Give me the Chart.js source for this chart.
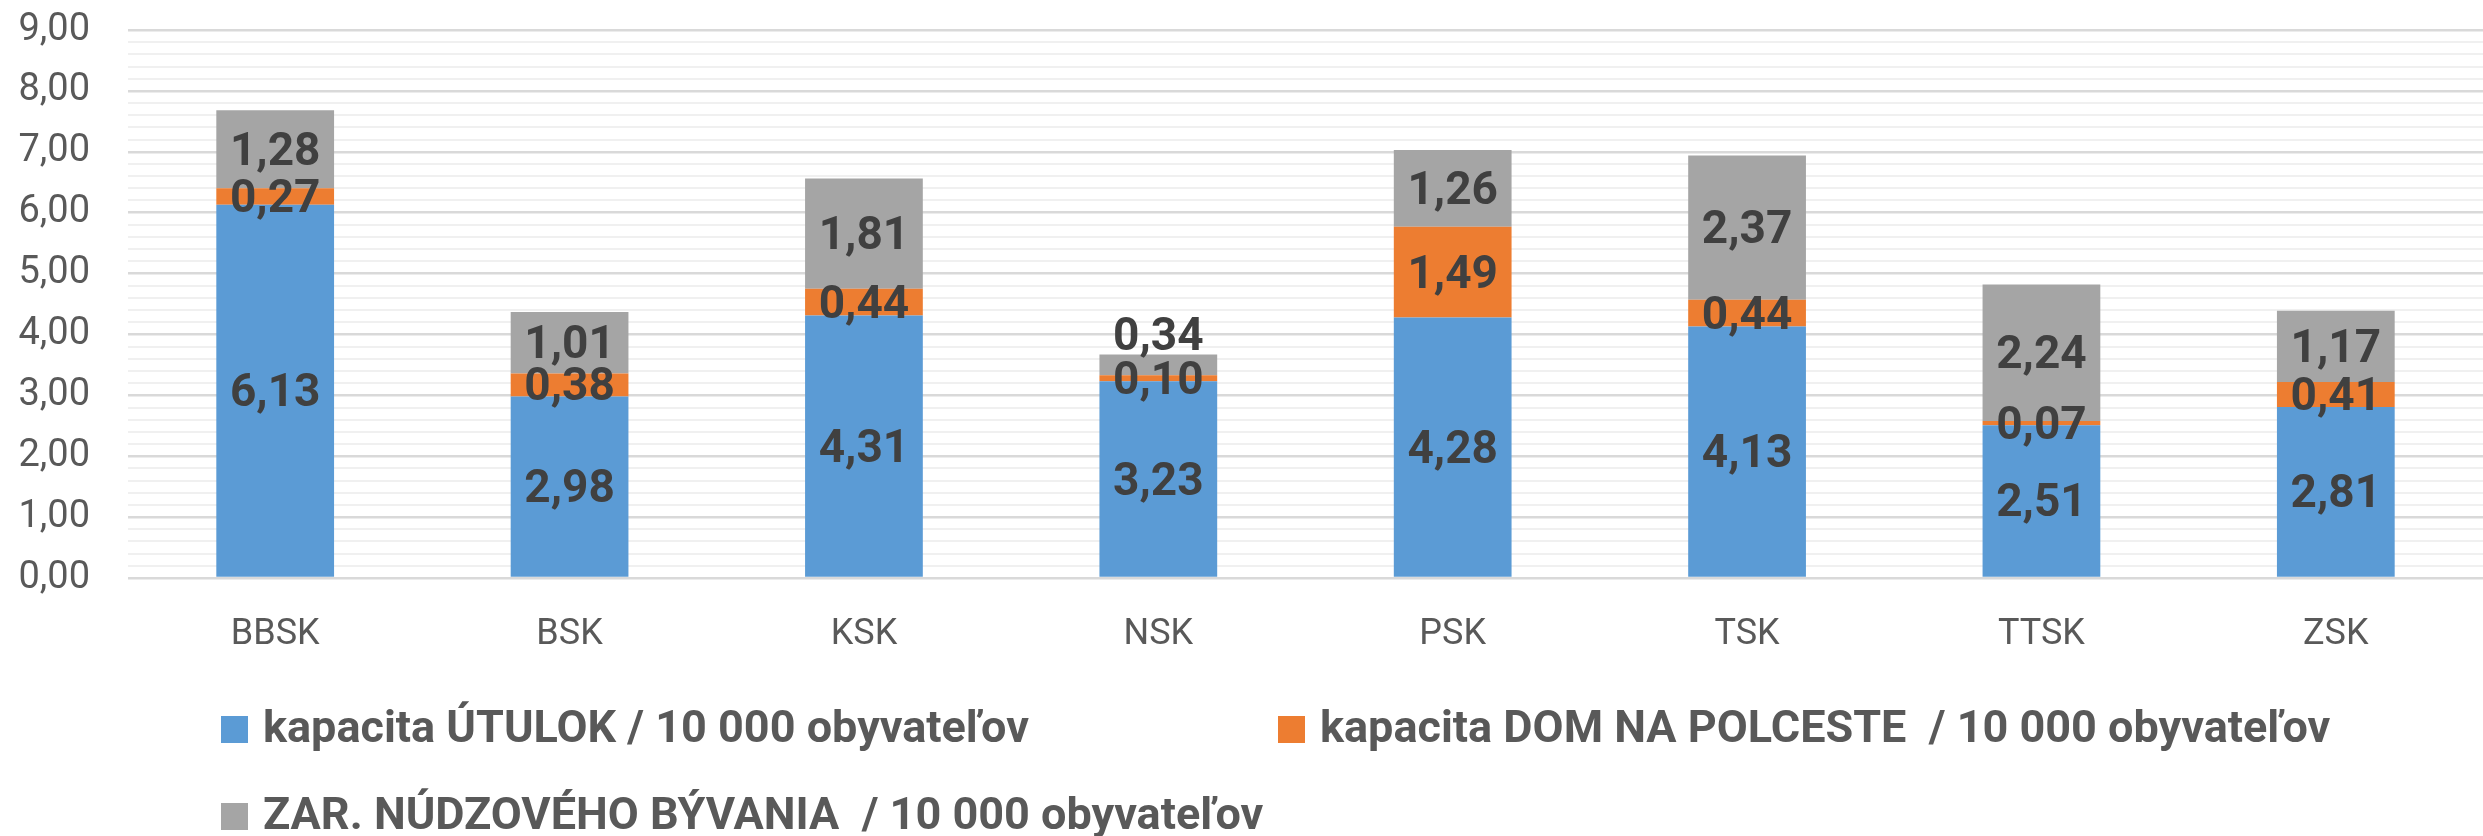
<!DOCTYPE html>
<html>
<head>
<meta charset="utf-8">
<script src="https://cdn.jsdelivr.net/npm/chart.js@4/dist/chart.umd.min.js"></script>
<style>
  html, body { margin: 0; padding: 0; background: #fff; }
  .chart { width: 2483px; height: 836px; position: relative; }
</style>
</head>
<body>
<div class="chart"><canvas id="chart"></canvas></div>
<script>
const regions = ['BBSK', 'BSK', 'KSK', 'NSK', 'PSK', 'TSK', 'TTSK', 'ZSK'];
const utulok = [6.13, 2.98, 4.31, 3.23, 4.28, 4.13, 2.51, 2.81];
const domPolceste = [0.27, 0.38, 0.44, 0.10, 1.49, 0.44, 0.07, 0.41];
const nudzoveByvanie = [1.28, 1.01, 1.81, 0.34, 1.26, 2.37, 2.24, 1.17];
const seriesNames = [
  'kapacita ÚTULOK / 10 000 obyvateľov',
  'kapacita DOM NA POLCESTE  / 10 000 obyvateľov',
  'ZAR. NÚDZOVÉHO BÝVANIA  / 10 000 obyvateľov'
];
const colors = ['#5B9BD5', '#ED7D31', '#A5A5A5'];

const fmt = v => v.toFixed(2).replace('.', ',');
const isMajor = v => Math.abs(v - Math.round(v)) < 1e-6;

Chart.defaults.font.family = 'Roboto, "Open Sans", sans-serif';

// labels in the middle of each segment, tiny top segments go above the bar
const valueLabels = {
  id: 'valueLabels',
  afterDatasetsDraw(chart) {
    const ctx = chart.ctx;
    const last = chart.data.datasets.length - 1;
    ctx.save();
    ctx.font = 'bold 46px Roboto, "Open Sans", sans-serif';
    ctx.fillStyle = '#404040';
    ctx.textAlign = 'center';
    ctx.textBaseline = 'middle';
    chart.data.datasets.forEach((ds, i) => {
      chart.getDatasetMeta(i).data.forEach((bar, j) => {
        const v = ds.data[j];
        let y = (bar.y + bar.base) / 2 + 4;
        if (i === last && v < 0.5) y = bar.y - 16;
        ctx.fillText(fmt(v), bar.x, y);
      });
    });
    ctx.restore();
  }
};

// Excel-like legend: two columns, left aligned
const sideLegend = {
  id: 'sideLegend',
  afterDraw(chart) {
    const ctx = chart.ctx;
    const x0 = 221, y0 = 716, colW = 1057, rowH = 87, box = 27;
    ctx.save();
    ctx.font = 'bold 45px Roboto, "Open Sans", sans-serif';
    ctx.textBaseline = 'middle';
    ctx.textAlign = 'left';
    chart.data.datasets.forEach((ds, i) => {
      const x = x0 + (i % 2) * colW;
      const y = y0 + Math.floor(i / 2) * rowH;
      ctx.fillStyle = ds.backgroundColor;
      ctx.fillRect(x, y, box, box);
      ctx.fillStyle = '#595959';
      ctx.fillText(ds.label, x + box + 15, y + box / 2 + 1);
    });
    ctx.restore();
  }
};

new Chart(document.getElementById('chart'), {
  type: 'bar',
  data: {
    labels: regions,
    datasets: [
      { label: seriesNames[0], data: utulok, backgroundColor: colors[0] },
      { label: seriesNames[1], data: domPolceste, backgroundColor: colors[1] },
      { label: seriesNames[2], data: nudzoveByvanie, backgroundColor: colors[2] }
    ]
  },
  options: {
    responsive: true,
    maintainAspectRatio: false,
    animation: false,
    events: [],
    layout: { padding: { top: 30, left: 0, right: 0, bottom: 183 } },
    datasets: { bar: { categoryPercentage: 1, barPercentage: 0.4 } },
    plugins: { legend: { display: false }, tooltip: { enabled: false } },
    scales: {
      x: {
        stacked: true,
        grid: { display: false, drawTicks: false },
        border: { display: false },
        ticks: { color: '#595959', font: { size: 36 }, padding: 35 },
        afterFit(scale) { scale.height = 75; }
      },
      y: {
        stacked: true,
        min: 0,
        max: 9,
        border: { display: false },
        grid: {
          drawTicks: false,
          color: c => isMajor(c.tick.value) ? '#D9D9D9' : '#F0F0F0',
          lineWidth: c => isMajor(c.tick.value) ? 2.5 : 2
        },
        ticks: {
          stepSize: 0.2,
          autoSkip: false,
          padding: 38,
          color: '#595959',
          font: { size: 38 },
          callback: v => isMajor(v) ? fmt(v) : ''
        },
        afterFit(scale) {
          scale.width = 128;
          scale.paddingTop = 0;
          scale.paddingBottom = 0;
        }
      }
    }
  },
  plugins: [valueLabels, sideLegend]
});
</script>
</body>
</html>
